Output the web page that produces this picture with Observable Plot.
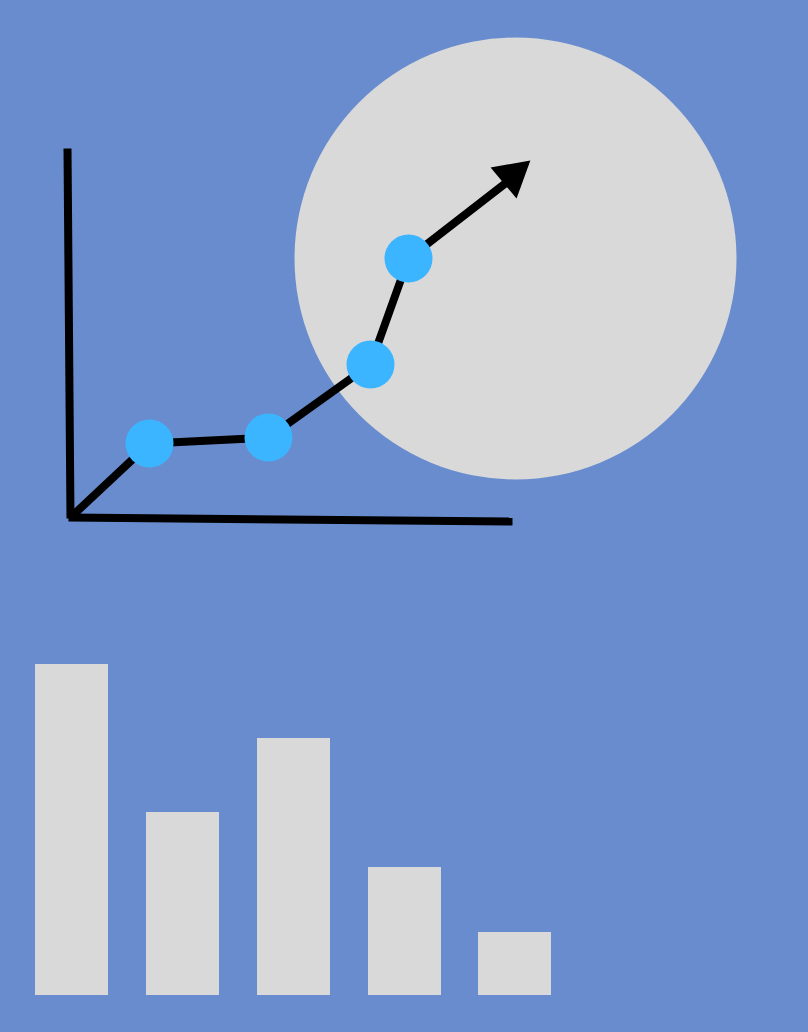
<!DOCTYPE html>
<html>
<head>
<meta charset="utf-8">
<script src="https://cdn.jsdelivr.net/npm/d3@7"></script>
<script src="https://cdn.jsdelivr.net/npm/@observablehq/plot@0.6"></script>
<style>
  html, body { margin: 0; padding: 0; background: #688ccd; }
  #chart svg { display: block; }
</style>
</head>
<body>
<div id="chart"></div>
<script>
// bar chart (bottom): left edge and value of each bar
const barStart = [35, 146, 257, 368, 478];
const barWidth = 73;
const barValue = [331, 183, 257, 128, 63];

// trend line (top): points the line goes through
const lineX = [70, 149, 268, 370, 408, 506];
const lineY = [478, 552, 558, 631, 737, 813];
// which of those points get a blue dot
const dotIndex = [1, 2, 3, 4];

// the two axes of the small line chart
const axisX = [[67, 70], [68, 512]];
const axisY = [[847, 477], [478, 474]];

// big grey circle behind the trend
const circleX = 515, circleY = 737, circleR = 221;

// arrow head at the end of the line
const headX = 512, headY = 820, headAngle = 50;

let bars = barStart.map((d, i) => ({x1: d, x2: d + barWidth, y: barValue[i]}));
let line = lineX.map((d, i) => ({x: d, y: lineY[i]}));
let dots = dotIndex.map(i => line[i]);
let axes = [];
axisX.forEach((xs, k) => xs.forEach((x, j) => axes.push({k, x, y: axisY[k][j]})));

let chart = Plot.plot({
  width: 808,
  height: 1032,
  margin: 0,
  style: {background: "#688ccd"},
  x: {domain: [0, 808], axis: null},
  y: {domain: [-37, 995], axis: null},
  r: {type: "identity"},
  marks: [
    Plot.dot([{x: circleX, y: circleY}], {x: "x", y: "y", r: circleR, fill: "#d9d9d9"}),
    Plot.rectY(bars, {x1: "x1", x2: "x2", y: "y", fill: "#d9d9d9"}),
    Plot.line(axes, {x: "x", y: "y", z: "k", stroke: "black", strokeWidth: 8, strokeLinecap: "butt", strokeLinejoin: "miter"}),
    Plot.line(line, {x: "x", y: "y", stroke: "black", strokeWidth: 8, strokeLinecap: "butt", strokeLinejoin: "miter"}),
    Plot.dot([{x: headX, y: headY}], {x: "x", y: "y", symbol: "triangle", r: 15, rotate: headAngle, fill: "black"}),
    Plot.dot(dots, {x: "x", y: "y", r: 24, fill: "#3bb5ff"})
  ]
});

d3.select('#chart').append(() => chart);
</script>
</body>
</html>
